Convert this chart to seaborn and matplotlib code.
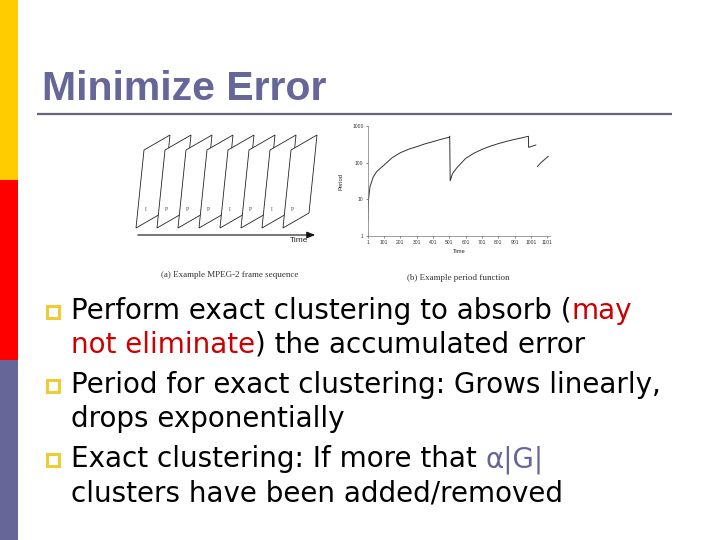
import matplotlib
matplotlib.use('Agg')
import matplotlib.pyplot as plt
from matplotlib.patches import Rectangle, Polygon
import seaborn as sns
import pandas as pd

# Period function (b): two pieces, the second one after a gap
seg_a_time = [1, 3, 6, 15, 35, 56, 101, 151, 201, 251, 301, 351, 401, 451, 501, 503,
              506, 520, 546, 601, 651, 701, 751, 801, 851, 901, 951, 985, 986, 1031]
seg_a_period = [2.5, 6, 10, 22, 41, 57, 86, 137, 187, 232, 273, 325, 375, 435, 495, 525,
                32, 50, 72, 131, 181, 231, 281, 331, 381, 432, 482, 525, 262, 304]
seg_b_time = [1040, 1060, 1080, 1107]
seg_b_period = [78, 98, 118, 150]

x_ticks = [1, 101, 201, 301, 401, 501, 601, 701, 801, 901, 1001, 1101]
y_ticks = [1, 10, 100, 1000]

# MPEG-2 frame sequence (a)
frame_types = ['I', 'P', 'P', 'P', 'I', 'P', 'I', 'P']

# Slide text
bullets = [
    [[("Perform exact clustering to absorb (", 'k'), ("may", 'red')],
     [("not eliminate", 'red'), (") the accumulated error", 'k')]],
    [[("Period for exact clustering: Grows linearly,", 'k')],
     [("drops exponentially", 'k')]],
    [[("Exact clustering: If more that ", 'k'), ("α|G|", 'slate')],
     [("clusters have been added/removed", 'k')]],
]

COLORS = {'k': '#000000', 'red': '#CC0000', 'slate': '#666699'}

sns.set_style("ticks")
plt.rcParams['font.family'] = ['DejaVu Sans']

fig = plt.figure(figsize=(7.2, 5.4), dpi=100)
fig.patch.set_facecolor('white')

# background axes in pixel units
bg = fig.add_axes([0, 0, 1, 1], zorder=0)
bg.set_xlim(0, 720)
bg.set_ylim(540, 0)
bg.axis('off')

# side bar
bg.add_patch(Rectangle((0, 0), 18, 180, color='#FFCC00', lw=0))
bg.add_patch(Rectangle((0, 180), 18, 180, color='#FF0000', lw=0))
bg.add_patch(Rectangle((0, 360), 18, 180, color='#666699', lw=0))

# title + rule
bg.text(42, 100, "Minimize Error", fontsize=29.5, fontweight='bold',
        family='Liberation Sans', color='#666699', va='baseline')
bg.plot([37, 672], [113.5, 113.5], color='#666677', lw=1.6, solid_capstyle='butt')

# bullets
renderer = fig.canvas.get_renderer()
y = 319
for bullet in bullets:
    bg.add_patch(Rectangle((47, y - 13), 11.5, 11.5, facecolor='white',
                           edgecolor='#EECC33', lw=2.2))
    for line in bullet:
        x = 71
        for txt, col in line:
            t = bg.text(x, y, txt, fontsize=20, color=COLORS[col], va='baseline')
            x += t.get_window_extent(renderer=renderer).width
        y += 34
    y += 6

# ---- (a) frame sequence diagram
da = fig.add_axes([130 / 720, 1 - 250 / 540, 195 / 720, 125 / 540], zorder=1)
da.set_xlim(130, 325)
da.set_ylim(250, 125)
da.axis('off')
step = 21.0
for k, ft in enumerate(frame_types):
    x0 = 136 + step * k
    poly = Polygon([(x0, 228), (x0 + 8, 150), (x0 + 34, 135), (x0 + 26, 213)],
                   closed=True, facecolor='white', edgecolor='#222222', lw=0.6, zorder=2 + k)
    da.add_patch(poly)
    da.text(x0 + 9.5, 209, ft, fontsize=4, family='Liberation Serif', color='#444444',
            ha='center', va='center', zorder=2 + k)
da.annotate('', xy=(318, 235), xytext=(135, 235),
            arrowprops=dict(arrowstyle='-|>,head_length=0.5,head_width=0.2', color='#111111', lw=0.8))
da.text(299, 240.5, "Time", fontsize=6, family='Liberation Sans', ha='center', va='center')
bg.text(230, 275, "(a) Example MPEG-2 frame sequence", fontsize=6.5,
        family='Liberation Serif', color='#333333', ha='center', va='center')

# ---- (b) period function
df = pd.DataFrame({
    'Time': seg_a_time + seg_b_time,
    'Period': seg_a_period + seg_b_period,
    'segment': ['a'] * len(seg_a_time) + ['b'] * len(seg_b_time),
})
ax = fig.add_axes([367.7 / 720, (540 - 236) / 540, 182.3 / 720, 110 / 540], zorder=2)
ax.set_facecolor('none')
sns.lineplot(data=df, x='Time', y='Period', units='segment', estimator=None,
             color='#333333', lw=0.7, ax=ax)
ax.set_yscale('log')
ax.set_xlim(1, 1117)
ax.set_ylim(1, 1000)
ax.set_xticks(x_ticks)
ax.set_xticklabels([str(v) for v in x_ticks], family='Liberation Sans')
ax.set_yticks(y_ticks)
ax.set_yticklabels([str(v) for v in y_ticks], family='Liberation Sans')
ax.minorticks_off()
ax.tick_params(labelsize=3.6, length=1.5, width=0.4, pad=1.5, colors='#333333')
for s in ['top', 'right']:
    ax.spines[s].set_visible(False)
for s in ['left', 'bottom']:
    ax.spines[s].set_linewidth(0.5)
    ax.spines[s].set_color('#777777')
ax.set_xlabel('Time', fontsize=4.2, family='Liberation Sans', labelpad=3)
ax.set_ylabel('Period', fontsize=4.2, family='Liberation Sans', labelpad=6)
bg.text(458, 278, "(b) Example period function", fontsize=6.5,
        family='Liberation Serif', color='#333333', ha='center', va='center')

fig.savefig('out.png', dpi=100)
